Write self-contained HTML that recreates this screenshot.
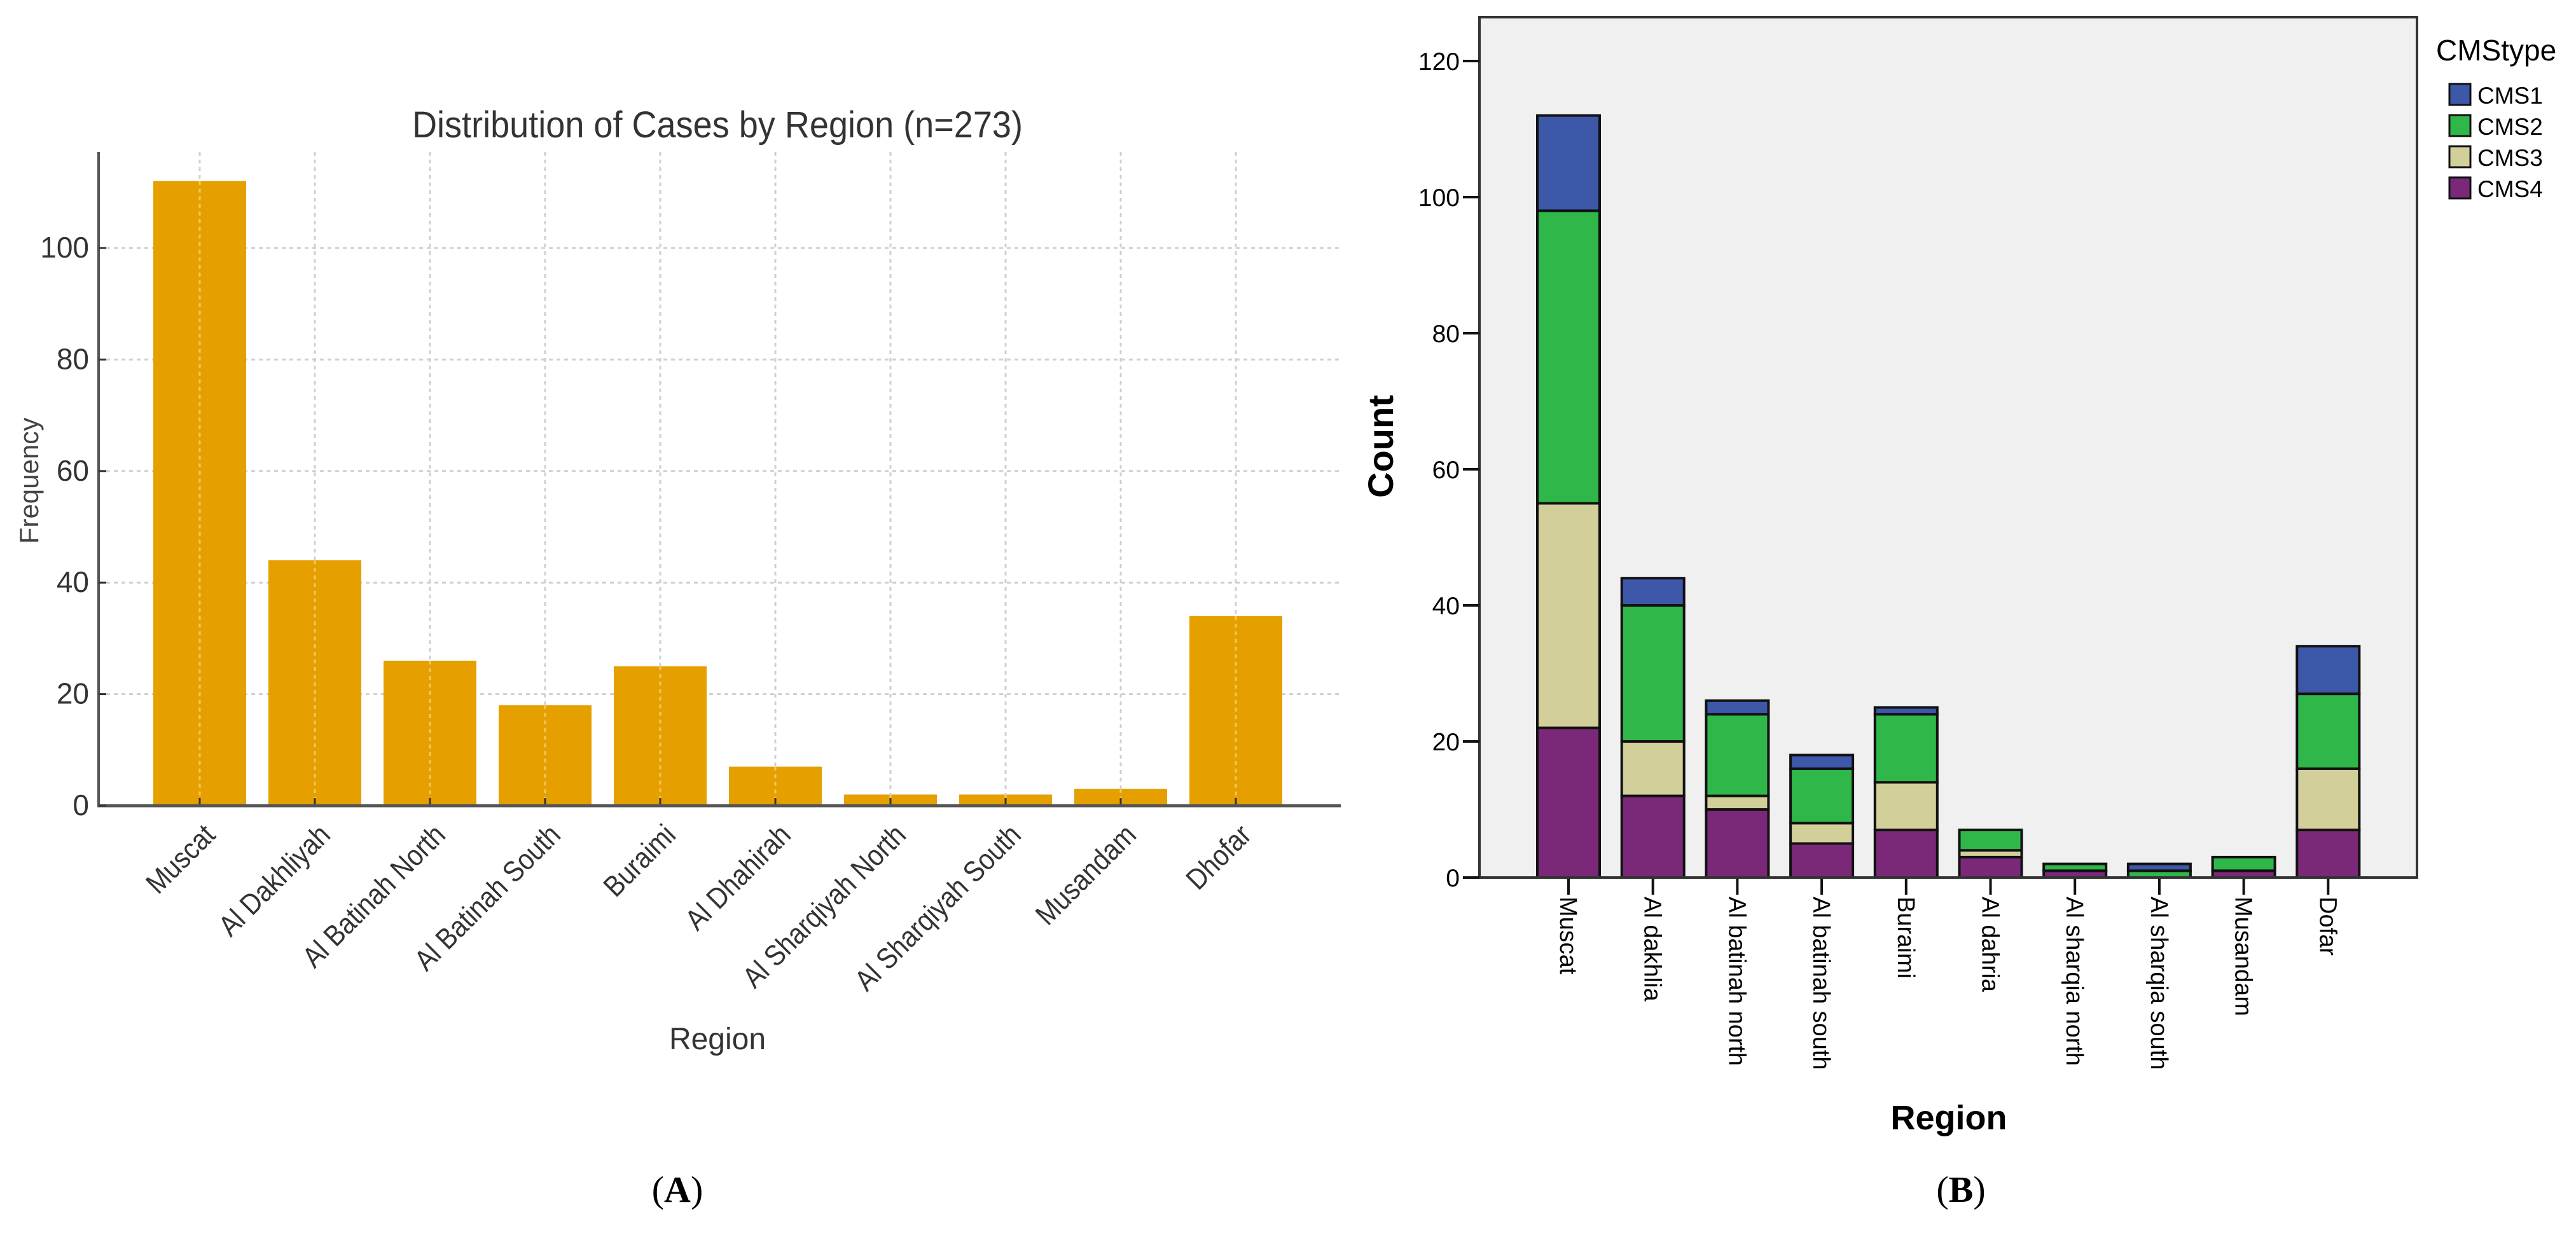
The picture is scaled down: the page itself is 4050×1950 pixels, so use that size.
<!DOCTYPE html>
<html><head><meta charset="utf-8"><style>
html,body{margin:0;padding:0;background:#fff;width:4050px;height:1950px;overflow:hidden}
svg{display:block}
</style></head><body>
<svg id="fig" xmlns="http://www.w3.org/2000/svg" width="4050" height="1950" viewBox="0 0 4050 1950">
<rect x="0" y="0" width="4050" height="1950" fill="#fff"/>
<g id="chartA"></g>
<g id="chartB"></g>
<text x="1065" y="1890" font-family="Liberation Serif, serif" font-size="58" text-anchor="middle" fill="#000">(<tspan font-weight="bold">A</tspan>)</text>
<text x="3083" y="1890" font-family="Liberation Serif, serif" font-size="58" text-anchor="middle" fill="#000">(<tspan font-weight="bold">B</tspan>)</text>
</svg>
<script>
// ---------- Chart A data ----------
const catsA = ["Muscat","Al Dakhliyah","Al Batinah North","Al Batinah South","Buraimi","Al Dhahirah","Al Sharqiyah North","Al Sharqiyah South","Musandam","Dhofar"];
const valsA = [112,44,26,18,25,7,2,2,3,34];
const ticksA = [0,20,40,60,80,100];
// ---------- Chart B data ----------
const catsB = ["Muscat","Al dakhlia","Al batinah north","Al batinah south","Buraimi","Al dahria","Al sharqia north","Al sharqia south","Musandam","Dofar"];
const seriesB = ["CMS1","CMS2","CMS3","CMS4"];
const cms4 = [22,12,10,5,7,3,1,0,1,7];
const cms3 = [33,8,2,3,7,1,0,0,0,9];
const cms2 = [43,20,12,8,10,3,1,1,2,11];
const cms1 = [14,4,2,2,1,0,0,1,0,7];
const ticksB = [0,20,40,60,80,100,120];

const NS = "http://www.w3.org/2000/svg";
function mk(parent, tag, attrs, text){
  const e = document.createElementNS(NS, tag);
  for (const k in attrs) e.setAttribute(k, attrs[k]);
  if (text !== undefined) e.textContent = text;
  parent.appendChild(e);
  return e;
}

// ===== Chart A =====
(function(){
  const g = document.getElementById('chartA');
  const L = 155, R = 2108, T = 239, B = 1267;
  const x0 = 314, step = 181, bw = 146;
  const yA = v => B - v * 8.77;
  const xA = i => x0 + i * step;
  const font = '"Liberation Sans Narrow","Liberation Sans",sans-serif';
  // grid
  ticksA.forEach(t => {
    if (t === 0) return;
    const l = mk(g,'line',{x1:L,x2:R,y1:yA(t),y2:yA(t),stroke:'#d0d0d0','stroke-width':3,'stroke-dasharray':'6 6'});
    
    
  });
  catsA.forEach((c,i) => {
    const l = mk(g,'line',{x1:xA(i),x2:xA(i),y1:T,y2:B,stroke:'#d0d0d0','stroke-width':3,'stroke-dasharray':'6 6'});
    
    
  });
  // bars
  valsA.forEach((v,i) => {
    const r = mk(g,'rect',{x:xA(i)-bw/2,y:yA(v),width:bw,height:B-yA(v),fill:'#e5a000'});
    
    
    // gridline through bar (faint)
    mk(g,'line',{x1:xA(i),x2:xA(i),y1:yA(v),y2:B,stroke:'#f0c860','stroke-width':3,'stroke-dasharray':'6 6'});
    const tk = mk(g,'line',{x1:xA(i),x2:xA(i),y1:B,y2:B-12,stroke:'#333','stroke-width':3});
    
    
    const t = mk(g,'text',{transform:`translate(${xA(i)+4},${B+26}) rotate(-45) scale(0.88,1)`,'text-anchor':'end','font-family':font,'font-size':46,fill:'#333','dominant-baseline':'hanging'}, catsA[i]);
    
    
  });
  // axes
  const ay = mk(g,'line',{x1:L,x2:L,y1:T,y2:B+2,stroke:'#555','stroke-width':4});
  
  
  const ax = mk(g,'line',{x1:L-2,x2:R,y1:B,y2:B,stroke:'#555','stroke-width':5});
  
  
  ticksA.forEach(t => {
    mk(g,'line',{x1:L,x2:L+12,y1:yA(t),y2:yA(t),stroke:'#333','stroke-width':3});
    const tl = mk(g,'text',{x:140,y:yA(t)+15,'text-anchor':'end','font-family':font,'font-size':46,fill:'#333'}, String(t));
    
    
  });
  const title = mk(g,'text',{x:1128,y:216,'text-anchor':'middle','font-family':font,'font-size':58,fill:'#333',textLength:960,lengthAdjust:'spacingAndGlyphs'},'Distribution of Cases by Region (n=273)');
  
  
  const xt = mk(g,'text',{x:1128,y:1650,'text-anchor':'middle','font-family':font,'font-size':48,fill:'#333'},'Region');
  
  
  const yt = mk(g,'text',{transform:'translate(60,756) rotate(-90)','text-anchor':'middle','font-family':'"Liberation Sans",sans-serif','font-size':42,fill:'#444'},'Frequency');
  
  
})();

// ===== Chart B =====
(function(){
  const g = document.getElementById('chartB');
  const L = 2326, R = 3800, T = 27, B = 1380;
  const x0 = 2466, step = 132.7, bw = 98;
  const yB = v => B - v * 10.7;
  const xB = i => x0 + i * step;
  const font = '"Liberation Sans",sans-serif';
  const colors = {CMS1:'#3d57a9',CMS2:'#2fb74a',CMS3:'#d3cf9a',CMS4:'#7b2879'};
  const bg = mk(g,'rect',{x:L,y:T,width:R-L,height:B-T,fill:'#f0f0f0'});
  
  
  const stacks = [['CMS4',cms4],['CMS3',cms3],['CMS2',cms2],['CMS1',cms1]];
  catsB.forEach((c,i) => {
    let base = 0;
    stacks.forEach(([name,arr]) => {
      const v = arr[i];
      if (v > 0) {
        const r = mk(g,'rect',{x:xB(i)-bw/2,y:yB(base+v),width:bw,height:yB(base)-yB(base+v),fill:colors[name],stroke:'#111','stroke-width':4});
        
        
      }
      base += v;
    });
    const tk = mk(g,'line',{x1:xB(i),x2:xB(i),y1:B,y2:B+27,stroke:'#111','stroke-width':4});
    
    
    const t = mk(g,'text',{transform:`translate(${xB(i)-13},${B+30}) rotate(90)`,'text-anchor':'start','font-family':font,'font-size':38,fill:'#000'}, c);
    
    
  });
  const frame = mk(g,'rect',{x:L,y:T,width:R-L,height:B-T,fill:'none',stroke:'#333','stroke-width':4});
  
  
  ticksB.forEach(t => {
    mk(g,'line',{x1:L-26,x2:L,y1:yB(t),y2:yB(t),stroke:'#111','stroke-width':4});
    const tl = mk(g,'text',{x:2295,y:yB(t)+14,'text-anchor':'end','font-family':font,'font-size':39,fill:'#000'}, String(t));
    
    
  });
  const yt = mk(g,'text',{transform:'translate(2190,702) rotate(-90)','text-anchor':'middle','font-family':font,'font-size':56,'font-weight':'bold',fill:'#000'},'Count');
  
  
  const xt = mk(g,'text',{x:3064,y:1776,'text-anchor':'middle','font-family':font,'font-size':54,'font-weight':'bold',fill:'#000'},'Region');
  
  
  // legend
  const lt = mk(g,'text',{x:3830,y:95,'font-family':font,'font-size':46,fill:'#000'},'CMStype');
  
  
  seriesB.forEach((s,k) => {
    const top = 132 + k*49;
    const sw = mk(g,'rect',{x:3851,y:top,width:33,height:33,fill:colors[s],stroke:'#111','stroke-width':3});
    
    
    const tx = mk(g,'text',{x:3895,y:top+31,'font-family':font,'font-size':37,fill:'#000'},s);
    
    
  });
})();
</script>
</body></html>
